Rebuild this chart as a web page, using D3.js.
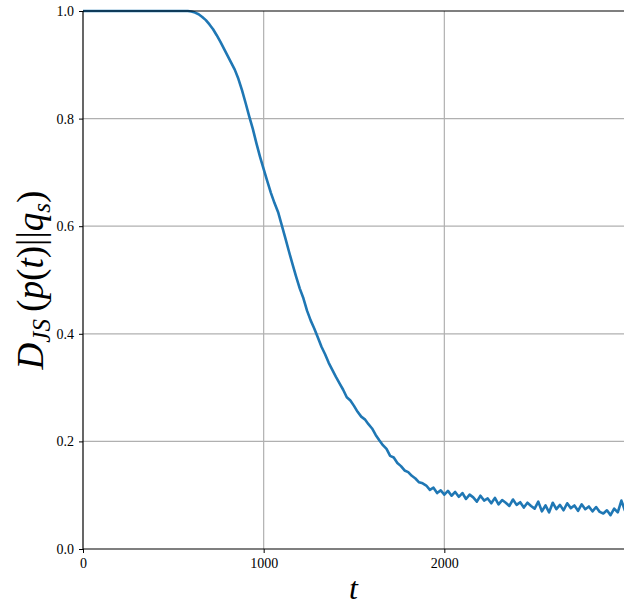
<!DOCTYPE html>
<html>
<head>
<meta charset="utf-8">
<script src="https://cdn.jsdelivr.net/npm/d3@7"></script>
<style>
  body { margin: 0; background: #fff; }
  svg { display: block; font-family: "Liberation Serif", "DejaVu Serif", serif; }
</style>
</head>
<body>
<div id="chart"></div>
<script>
(function() {
  var width = 624, height = 608;
  var margin = {top: 11, right: -1, bottom: 59, left: 83};

  // time steps (every 20) and the divergence
  var steps = d3.range(0, 3001, 20);
  var divergence = [
    1.000, 1.000, 1.000, 1.000, 1.000, 1.000, 1.000, 1.000, 1.000, 1.000,
    1.000, 1.000, 1.000, 1.000, 1.000, 1.000, 1.000, 1.000, 1.000, 1.000,
    1.000, 1.000, 1.000, 1.000, 1.000, 1.000, 1.000, 1.000, 1.000, 1.000,
    0.999, 0.997, 0.994, 0.989, 0.983, 0.975, 0.966, 0.955, 0.943, 0.930,
    0.917, 0.904, 0.891, 0.874, 0.853, 0.829, 0.804, 0.781, 0.754, 0.729,
    0.706, 0.684, 0.662, 0.643, 0.626, 0.602, 0.578, 0.553, 0.529, 0.506,
    0.484, 0.466, 0.443, 0.425, 0.410, 0.393, 0.376, 0.362, 0.346, 0.333,
    0.320, 0.308, 0.296, 0.282, 0.276, 0.266, 0.255, 0.246, 0.241, 0.232,
    0.224, 0.212, 0.202, 0.193, 0.186, 0.173, 0.170, 0.160, 0.154, 0.146,
    0.143, 0.136, 0.131, 0.124, 0.122, 0.118, 0.110, 0.114, 0.104, 0.109,
    0.101, 0.108, 0.099, 0.106, 0.097, 0.104, 0.093, 0.101, 0.096, 0.088,
    0.099, 0.090, 0.094, 0.085, 0.095, 0.083, 0.091, 0.086, 0.080, 0.092,
    0.082, 0.087, 0.077, 0.086, 0.080, 0.075, 0.088, 0.070, 0.081, 0.068,
    0.086, 0.074, 0.082, 0.072, 0.085, 0.076, 0.081, 0.071, 0.083, 0.074,
    0.079, 0.070, 0.078, 0.069, 0.066, 0.072, 0.063, 0.075, 0.068, 0.090,
    0.071
  ];
  var xTicks = [0, 1000, 2000];
  var yTicks = [0.0, 0.2, 0.4, 0.6, 0.8, 1.0];

  var svg = d3.select('#chart').append('svg')
    .attr('width', width).attr('height', height);

  var x = d3.scaleLinear().domain([0, 3000]).range([margin.left, width - margin.right]);
  var y = d3.scaleLinear().domain([0, 1]).range([height - margin.bottom, margin.top]);

  // grid
  svg.append('g').selectAll('line').data(xTicks.slice(1)).enter().append('line')
    .attr('x1', function(d) { return x(d); }).attr('x2', function(d) { return x(d); })
    .attr('y1', y(0)).attr('y2', y(1))
    .attr('stroke', '#b0b0b0').attr('stroke-width', 1.2);
  svg.append('g').selectAll('line').data(yTicks.slice(1, -1)).enter().append('line')
    .attr('x1', x(0)).attr('x2', x(3000))
    .attr('y1', function(d) { return y(d); }).attr('y2', function(d) { return y(d); })
    .attr('stroke', '#b0b0b0').attr('stroke-width', 1.2);

  // curve
  var line = d3.line()
    .x(function(d, i) { return x(steps[i]); })
    .y(function(d) { return y(d); });
  svg.append('path').datum(divergence)
    .attr('d', line)
    .attr('fill', 'none')
    .attr('stroke', '#1f77b4')
    .attr('stroke-width', 2.6)
    .attr('stroke-linejoin', 'round');

  // axes
  var xAxis = d3.axisBottom(x).tickValues(xTicks).tickSize(4).tickPadding(5)
    .tickFormat(d3.format('d'));
  var yAxis = d3.axisLeft(y).tickValues(yTicks).tickSize(4).tickPadding(5)
    .tickFormat(d3.format('.1f'));

  var gx = svg.append('g').attr('transform', 'translate(0,' + y(0) + ')').call(xAxis);
  var gy = svg.append('g').attr('transform', 'translate(' + x(0) + ',0)').call(yAxis);
  [gx, gy].forEach(function(g) {
    g.select('.domain').remove();
    g.selectAll('line').attr('stroke', '#000').attr('stroke-width', 1);
    g.selectAll('text').attr('font-family', '"Liberation Serif", serif')
      .attr('font-size', 14).attr('fill', '#000');
  });

  // spines
  svg.append('line').attr('x1', x(0)).attr('x2', x(0)).attr('y1', y(0)).attr('y2', y(1))
    .attr('stroke', '#000').attr('stroke-width', 1.2);
  svg.append('line').attr('x1', x(0)).attr('x2', x(3000)).attr('y1', y(0)).attr('y2', y(0))
    .attr('stroke', '#000').attr('stroke-width', 1.2);
  svg.append('line').attr('x1', x(0)).attr('x2', x(3000)).attr('y1', y(1)).attr('y2', y(1))
    .attr('stroke', '#000').attr('stroke-width', 1.2);

  // x label
  svg.append('text')
    .attr('x', (x(0) + width) / 2).attr('y', 599)
    .attr('text-anchor', 'middle')
    .attr('font-size', 32).attr('font-style', 'italic')
    .text('t');

  // y label: D_JS(p(t)||q_s)
  var yl = svg.append('text')
    .attr('transform', 'translate(43,' + ((y(0) + y(1)) / 2) + ') rotate(-90)')
    .attr('text-anchor', 'middle')
    .attr('font-size', 37);
  yl.append('tspan').attr('font-style', 'italic').text('D');
  yl.append('tspan').attr('font-style', 'italic').attr('font-size', 25).attr('dy', 7).text('JS');
  yl.append('tspan').attr('dy', -7).text('\u2009(');
  yl.append('tspan').attr('font-style', 'italic').text('p');
  yl.append('tspan').text('(');
  yl.append('tspan').attr('font-style', 'italic').text('t');
  yl.append('tspan').text(')||');
  yl.append('tspan').attr('font-style', 'italic').text('q');
  yl.append('tspan').attr('font-style', 'italic').attr('font-size', 25).attr('dy', 7).text('s');
  yl.append('tspan').attr('dy', -7).text(')');
})();
</script>
</body>
</html>
